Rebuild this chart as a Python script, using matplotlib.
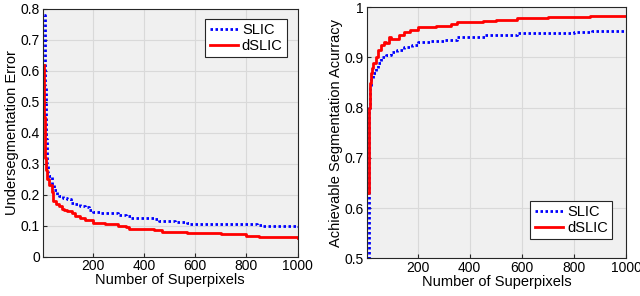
import matplotlib
matplotlib.use("Agg")
import matplotlib.pyplot as plt

plt.rcParams['font.family'] = ['Liberation Sans', 'DejaVu Sans']
plt.rcParams['font.size'] = 10

# undersegmentation error
ue_slic_x = [10, 13, 16, 20, 25, 30, 40, 50, 60, 70, 85, 100, 115, 130, 150, 170, 185, 200, 230, 260, 300, 330, 350, 400, 440, 460, 520, 570, 580, 700, 840, 860, 1000]
ue_slic_y = [0.78, 0.55, 0.38, 0.30, 0.27, 0.26, 0.23, 0.215, 0.20, 0.195, 0.19, 0.185, 0.175, 0.17, 0.165, 0.16, 0.15, 0.145, 0.142, 0.14, 0.135, 0.13, 0.125, 0.125, 0.122, 0.115, 0.113, 0.11, 0.105, 0.105, 0.103, 0.098, 0.097]
ue_dslic_x = [10, 12, 15, 18, 22, 30, 40, 45, 55, 70, 80, 90, 100, 120, 130, 150, 170, 200, 250, 300, 330, 340, 400, 440, 470, 570, 700, 800, 850, 1000]
ue_dslic_y = [0.62, 0.45, 0.32, 0.28, 0.25, 0.23, 0.21, 0.18, 0.17, 0.165, 0.155, 0.15, 0.148, 0.14, 0.13, 0.125, 0.12, 0.11, 0.105, 0.1, 0.097, 0.09, 0.09, 0.085, 0.08, 0.075, 0.072, 0.068, 0.063, 0.06]

# achievable segmentation accuracy
asa_slic_x = [10, 12, 15, 18, 22, 30, 40, 50, 60, 70, 80, 100, 120, 150, 180, 200, 250, 300, 350, 440, 460, 580, 700, 800, 870, 1000]
asa_slic_y = [0.5, 0.65, 0.8, 0.84, 0.86, 0.87, 0.88, 0.89, 0.9, 0.9, 0.905, 0.91, 0.915, 0.92, 0.925, 0.93, 0.932, 0.935, 0.94, 0.94, 0.945, 0.948, 0.948, 0.95, 0.953, 0.953]
asa_dslic_x = [10, 12, 14, 17, 20, 25, 30, 40, 50, 60, 70, 80, 90, 100, 130, 150, 170, 200, 270, 330, 350, 400, 450, 500, 580, 700, 860, 1000]
asa_dslic_y = [0.63, 0.7, 0.8, 0.85, 0.87, 0.88, 0.89, 0.9, 0.915, 0.925, 0.93, 0.928, 0.94, 0.937, 0.945, 0.95, 0.955, 0.96, 0.963, 0.967, 0.97, 0.97, 0.973, 0.975, 0.978, 0.98, 0.983, 0.983]

bg = '#f0f0f0'
dots = (0, (0.9, 0.9))
fig = plt.figure(figsize=(6.4, 2.96), dpi=100)
ax1 = fig.add_axes([42.7 / 640, 1 - 256.7 / 296, 255 / 640, 247.7 / 296])
ax2 = fig.add_axes([366.7 / 640, 1 - 258.3 / 296, 259.3 / 640, 251 / 296])

for ax in (ax1, ax2):
    ax.set_facecolor(bg)
    ax.grid(True, color='#d9d9d9', linewidth=0.8)
    ax.set_axisbelow(True)
    ax.tick_params(direction='in', length=3, color='#262626', labelcolor='black', labelsize=10, pad=2)
    for s in ax.spines.values():
        s.set_color('#262626')
        s.set_linewidth(0.8)
    ax.set_xlim(5, 1000)
    ax.set_xticks([200, 400, 600, 800, 1000])
    ax.set_xlabel('Number of Superpixels', labelpad=0, fontsize=10.5)

ax1.plot(ue_slic_x, ue_slic_y, color='blue', linestyle=dots, linewidth=2, label='SLIC', drawstyle='steps-post')
ax1.plot(ue_dslic_x, ue_dslic_y, color='red', linestyle='-', linewidth=2, label='dSLIC', drawstyle='steps-post')
ax1.set_ylim(0, 0.8)
ax1.set_yticks([0, 0.1, 0.2, 0.3, 0.4, 0.5, 0.6, 0.7, 0.8])
ax1.set_yticklabels(['0', '0.1', '0.2', '0.3', '0.4', '0.5', '0.6', '0.7', '0.8'])
ax1.set_ylabel('Undersegmentation Error', labelpad=1, fontsize=10.5)
leg1 = ax1.legend(loc='upper right', fancybox=False, edgecolor='#262626', framealpha=1,
                  handlelength=1.9, borderpad=0.3, labelspacing=0.1, handletextpad=0.3,
                  borderaxespad=0, fontsize=10.5, bbox_to_anchor=(287 / 255 - 42.7 / 255, 1 - 10 / 247.7))
leg1.get_frame().set_linewidth(0.8)

ax2.plot(asa_slic_x, asa_slic_y, color='blue', linestyle=dots, linewidth=2, label='SLIC', drawstyle='steps-post')
ax2.plot(asa_dslic_x, asa_dslic_y, color='red', linestyle='-', linewidth=2, label='dSLIC', drawstyle='steps-post')
ax2.set_ylim(0.5, 1)
ax2.set_yticks([0.5, 0.6, 0.7, 0.8, 0.9, 1.0])
ax2.set_yticklabels(['0.5', '0.6', '0.7', '0.8', '0.9', '1'])
ax2.set_ylabel('Achievable Segmentation Acurracy', labelpad=1, fontsize=10.5)
leg2 = ax2.legend(loc='lower right', fancybox=False, edgecolor='#262626', framealpha=1,
                  handlelength=1.9, borderpad=0.3, labelspacing=0.1, handletextpad=0.3,
                  borderaxespad=0, fontsize=10.5, bbox_to_anchor=((612 - 366.7) / 259.3, (258.3 - 239) / 251))
leg2.get_frame().set_linewidth(0.8)

fig.savefig('out.png', dpi=100, facecolor='white')
